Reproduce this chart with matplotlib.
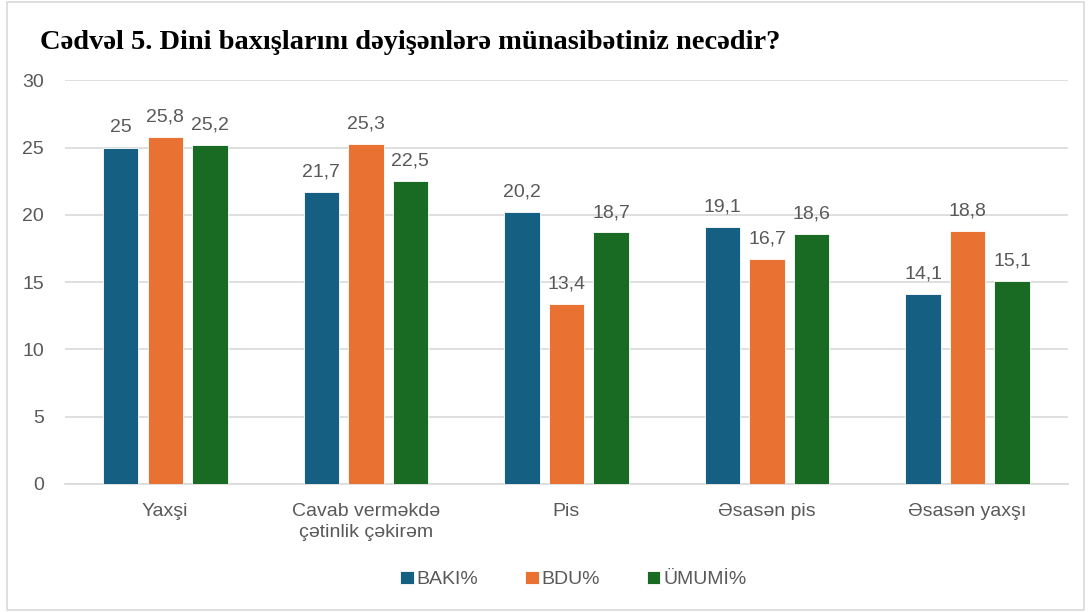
import numpy as np
import matplotlib.pyplot as plt
from matplotlib.patches import Rectangle

categories = ["Yaxşi", "Cavab verməkdə\nçətinlik çəkirəm", "Pis", "Əsasən pis", "Əsasən yaxşı"]
baki = [25, 21.7, 20.2, 19.1, 14.1]
bdu = [25.8, 25.3, 13.4, 16.7, 18.8]
umumi = [25.2, 22.5, 18.7, 18.6, 15.1]
series_names = ["BAKI%", "BDU%", "ÜMUMİ%"]
colors = ["#156082", "#E97132", "#196B24"]

plt.rcParams['font.family'] = ['Liberation Sans', 'DejaVu Sans']
grey = "#595959"

fig = plt.figure(figsize=(10.88, 6.12), dpi=100)
ax = fig.add_axes([0.0597, 0.2092, 0.9219, 0.6593])

x = np.arange(len(categories))
w = 0.177
off = 0.222
for i, (vals, name, c) in enumerate(zip([baki, bdu, umumi], series_names, colors)):
    bars = ax.bar(x + (i - 1) * off, vals, w, color=c, label=name,
                  edgecolor="white", linewidth=0.6, zorder=3)
    for b, v in zip(bars, vals):
        ax.text(b.get_x() + b.get_width() / 2, v + 0.85, str(v).replace(".", ","),
                ha="center", va="bottom", fontsize=14, color=grey)

ax.set_xlim(-0.5, 4.5)
ax.set_ylim(0, 30)
ax.set_yticks(range(0, 31, 5))
ax.yaxis.grid(True, color="#D9D9D9", linewidth=1.2, zorder=0)
for s in ["top", "right", "left"]:
    ax.spines[s].set_visible(False)
ax.spines["bottom"].set_color("#D9D9D9")
ax.spines["bottom"].set_linewidth(1.2)
ax.tick_params(axis="both", length=0, labelsize=14, colors=grey)
ax.tick_params(axis="y", pad=15)
ax.tick_params(axis="x", pad=14)
ax.set_xticks(x)
ax.set_xticklabels(categories, linespacing=1.3)

fig.text(0.037, 0.93, "Cədvəl 5. Dini baxışlarını dəyişənlərə münasibətiniz necədir?",
         fontsize=20.5, fontweight="bold", family="Liberation Serif", color="black",
         va="center")

ax.legend(loc="center", bbox_to_anchor=(0.527, 0.053), bbox_transform=fig.transFigure,
          ncol=3, frameon=False, fontsize=14, labelcolor=grey,
          handlelength=0.7, handleheight=0.7, handletextpad=0.15, columnspacing=2.4)

fig.patches.append(Rectangle((0.006, 0.003), 0.99, 0.994, transform=fig.transFigure,
                             fill=False, edgecolor="#D9D9D9", linewidth=1.2))

fig.savefig("out.png", dpi=100)
